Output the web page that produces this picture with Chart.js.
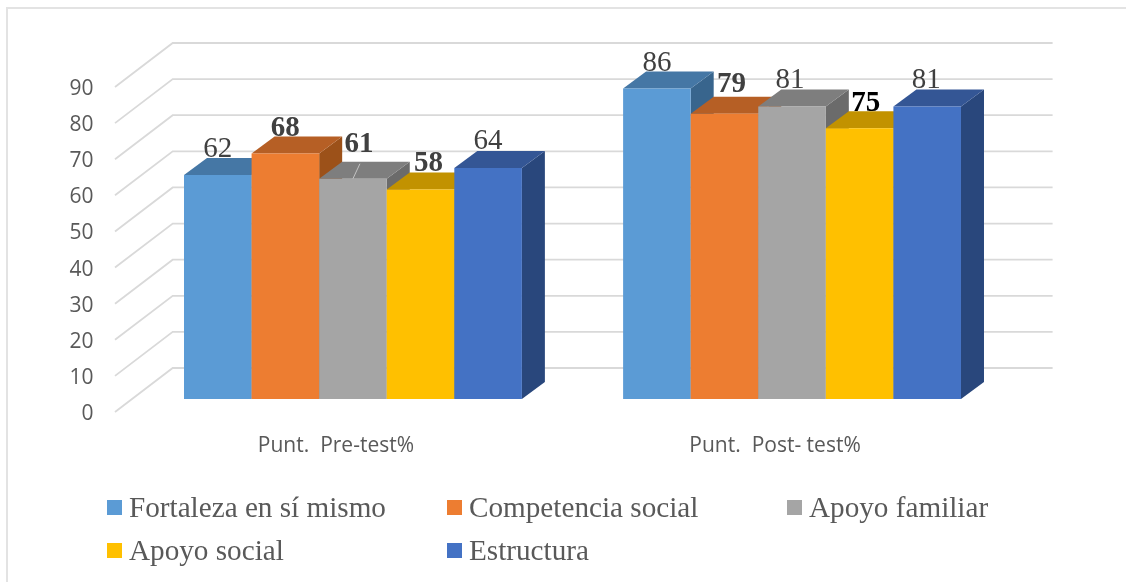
<!DOCTYPE html>
<html>
<head>
<meta charset="utf-8">
<title>Punt. Pre-test / Post-test</title>
<script src="https://cdn.jsdelivr.net/npm/chart.js@4/dist/chart.umd.min.js"></script>
<style>
  html, body { margin: 0; padding: 0; background: #fff; }
  #wrap { position: relative; width: 1126px; height: 582px; overflow: hidden; }
  #frame { position: absolute; left: 6px; top: 7px; width: 1120px; height: 575px; border-left: 2px solid #e3e3e3; border-top: 2px solid #e3e3e3; box-sizing: border-box; }
  #chart { position: absolute; left: 0; top: 0; }
  #chartLegend { position: absolute; left: 107px; top: 486px; display: grid; grid-template-columns: 340px 340px 340px; grid-auto-rows: 43px;
    font: 29.2px "Liberation Serif", serif; color: #595959; }
  #chartLegend div { display: flex; align-items: center; white-space: nowrap; }
  #chartLegend i { display: inline-block; width: 15px; height: 15px; margin-right: 7px; }
</style>
</head>
<body>
<div id="wrap">
  <div id="frame"></div>
  <canvas id="chart" width="1126" height="582"></canvas>
  <div id="chartLegend"></div>
</div>
<script>
// values
var categories = ['Punt.  Pre-test%', 'Punt.  Post- test%'];
var seriesNames = ['Fortaleza en sí mismo', 'Competencia social', 'Apoyo familiar', 'Apoyo social', 'Estructura'];
var fortaleza = [62, 86];
var competencia = [68, 79];
var familiar = [61, 81];
var social = [58, 75];
var estructura = [64, 81];
var yTicks = [0, 10, 20, 30, 40, 50, 60, 70, 80, 90];

// face colours per series
var frontColors = ['#5B9BD5', '#ED7D31', '#A5A5A5', '#FFC000', '#4472C4'];
var topColors = ['#4577A5', '#B65F25', '#7E7E7E', '#C29200', '#345695'];
var sideColors = ['#38658D', '#9C5119', '#6B6B6B', '#A67C00', '#29477C'];

// which value labels are bold in the original, and small nudges off the bar centre
var boldLabels = [[false, false], [true, true], [true, false], [true, true], [false, false]];
var labelDx = [[0, 0], [0, 7], [6, -2], [8, 6], [0, -1]];
var labelDy = [[-26, -25], [-25, -29], [-34, -26], [-26, -25], [-26, -26]];

var allValues = [fortaleza, competencia, familiar, social, estructura];

// the fake 3d box: how far the walls and bars go into the depth
var BAR_DX = 23, BAR_DY = 17;
var WALL_FRONT_DX = -18.4, WALL_FRONT_DY = 13;
var WALL_BACK_DX = 39.3, WALL_BACK_DY = -31;

var wallsPlugin = {
  id: 'walls',
  beforeDatasetsDraw: function (chart) {
    var ctx = chart.ctx, area = chart.chartArea, y = chart.scales.y;
    ctx.save();
    ctx.strokeStyle = '#d9d9d9';
    ctx.lineWidth = 1.8;
    yTicks.forEach(function (t) {
      var py = y.getPixelForValue(t);
      ctx.beginPath();
      ctx.moveTo(area.left + WALL_FRONT_DX, py + WALL_FRONT_DY);
      ctx.lineTo(area.left + WALL_BACK_DX, py + WALL_BACK_DY);
      ctx.lineTo(area.right + 41, py + WALL_BACK_DY);
      ctx.stroke();
    });
    ctx.restore();
  }
};

function poly(ctx, pts, color) {
  ctx.fillStyle = color;
  ctx.beginPath();
  ctx.moveTo(pts[0][0], pts[0][1]);
  for (var i = 1; i < pts.length; i++) ctx.lineTo(pts[i][0], pts[i][1]);
  ctx.closePath();
  ctx.fill();
}

var boxPlugin = {
  id: 'box3d',
  // chart.js paints the last dataset first, here the boxes have to go left to right
  // so each bar covers the side of the one before it
  beforeDatasetsDraw: function (chart) {
    var ctx = chart.ctx;
    chart.data.datasets.forEach(function (ds, i) {
      var meta = chart.getDatasetMeta(i);
      meta.data.forEach(function (bar) {
        var p = bar.getProps(['x', 'y', 'base', 'width'], true);
        var l = p.x - p.width / 2, r = p.x + p.width / 2;
        poly(ctx, [[r, p.y], [r + BAR_DX, p.y - BAR_DY], [r + BAR_DX, p.base - BAR_DY], [r, p.base]], sideColors[i]);
        poly(ctx, [[l, p.y], [r, p.y], [r + BAR_DX, p.y - BAR_DY], [l + BAR_DX, p.y - BAR_DY]], topColors[i]);
      });
      meta.controller.draw();
    });
    return false;
  },
  afterDraw: function (chart) {
    var ctx = chart.ctx;
    ctx.save();
    // the "61" label was dragged off its bar, the leader line stays on the top face
    var moved = chart.getDatasetMeta(2).data[0].getProps(['x', 'y'], true);
    ctx.strokeStyle = '#c4c4c4';
    ctx.lineWidth = 1;
    ctx.beginPath();
    ctx.moveTo(moved.x, moved.y);
    ctx.lineTo(moved.x + 7, moved.y - 15);
    ctx.stroke();

    ctx.textAlign = 'center';
    ctx.textBaseline = 'middle';
    chart.data.datasets.forEach(function (ds, i) {
      chart.getDatasetMeta(i).data.forEach(function (bar, j) {
        var p = bar.getProps(['x', 'y'], true);
        ctx.font = (boldLabels[i][j] ? 'bold ' : '') + '29px "Liberation Serif"';
        ctx.fillStyle = (i === 3 && j === 1) ? '#000000' : '#404040';
        ctx.fillText(ds.data[j], p.x + labelDx[i][j], p.y + labelDy[i][j]);
      });
    });
    ctx.restore();
  }
};

var datasets = [];
for (var s = 0; s < seriesNames.length; s++) {
  datasets.push({
    label: seriesNames[s],
    data: allValues[s],
    backgroundColor: frontColors[s],
    barPercentage: 1,
    categoryPercentage: 0.7695
  });
}

var chart = new Chart(document.getElementById('chart').getContext('2d'), {
  type: 'bar',
  data: { labels: categories, datasets: datasets },
  plugins: [wallsPlugin, boxPlugin],
  options: {
    responsive: false,
    animation: false,
    layout: { padding: { left: 0, right: 114.4, top: 74, bottom: 0 } },
    plugins: { legend: { display: false }, tooltip: { enabled: false } },
    scales: {
      x: {
        grid: { display: false, drawTicks: false },
        border: { display: false },
        afterFit: function (scale) { scale.height = 183; },
        ticks: {
          padding: 34,
          labelOffset: -17,
          color: '#595959',
          font: { family: '"Open Sans"', size: 21 }
        }
      },
      y: {
        min: 0,
        max: 90,
        afterFit: function (scale) { scale.width = 133.4; },
        afterBuildTicks: function (scale) { scale.ticks = yTicks.map(function (v) { return { value: v }; }); },
        grid: { display: false, drawTicks: false },
        border: { display: false },
        ticks: {
          padding: 40,
          labelOffset: 15,
          color: '#595959',
          font: { family: '"Open Sans"', size: 21 }
        }
      }
    }
  }
});

// legend laid out in fixed columns like the original
document.getElementById('chartLegend').innerHTML = chart.data.datasets.map(function (ds) {
  return '<div><i style="background:' + ds.backgroundColor + '"></i>' + ds.label + '</div>';
}).join('');
</script>
</body>
</html>
